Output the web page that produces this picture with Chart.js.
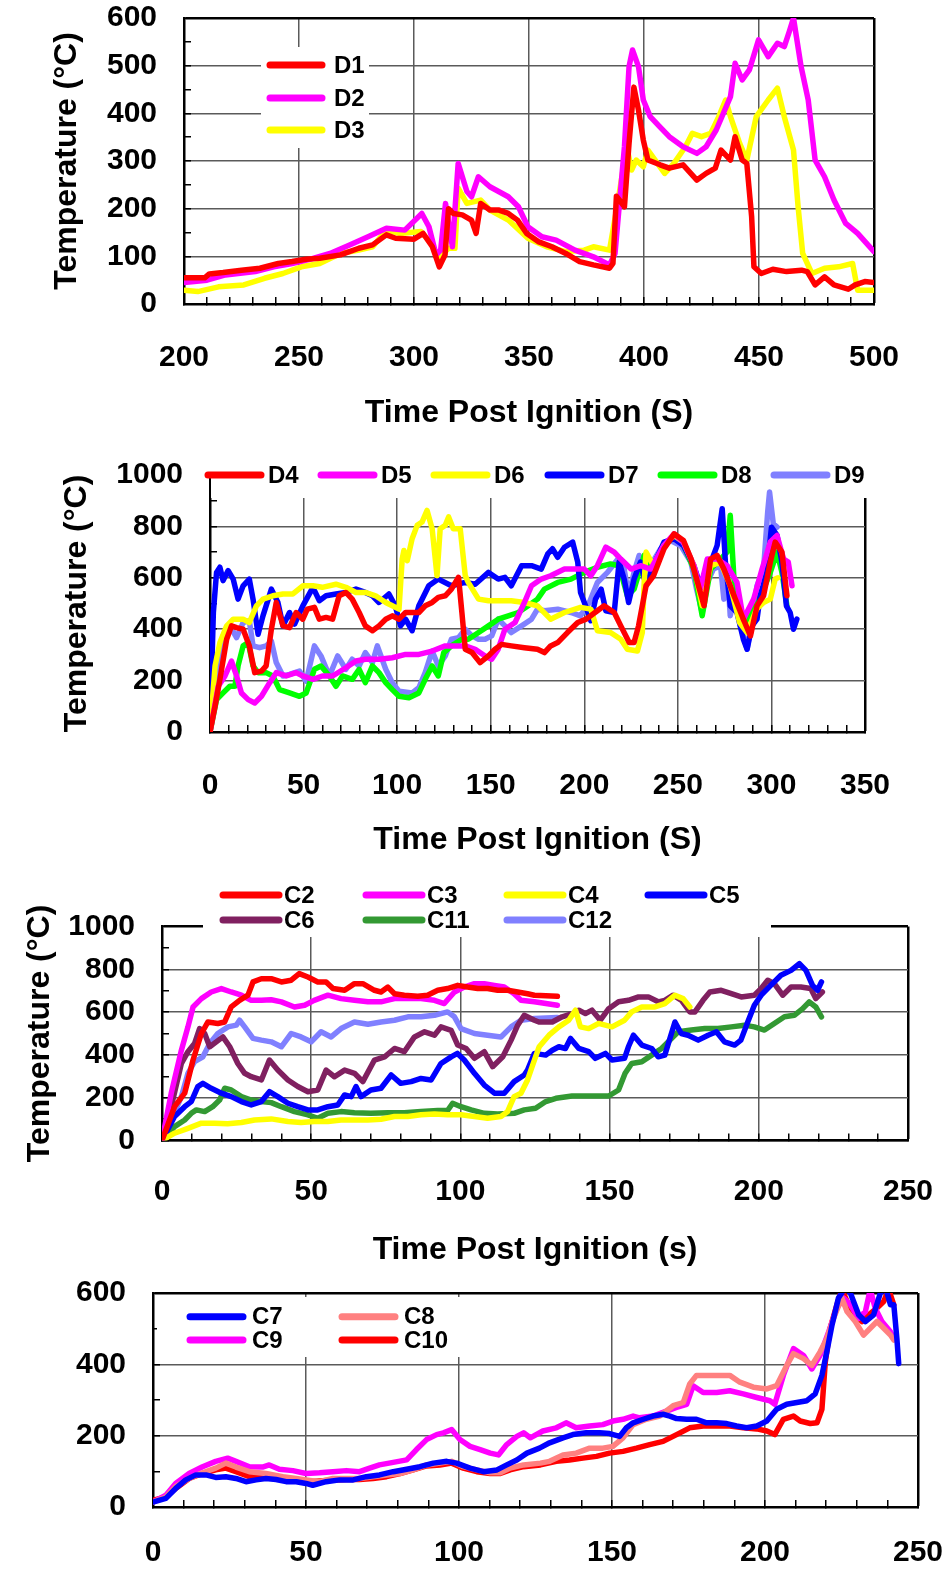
<!DOCTYPE html>
<html>
<head>
<meta charset="utf-8">
<script src="https://cdn.jsdelivr.net/npm/chart.js@4/dist/chart.umd.min.js"></script>
<style>
  body { margin: 0; background: #fff; }
  .panel { position: absolute; left: 0; width: 948px; }
</style>
</head>
<body>
<div class="panel" style="top:0px;height:440px"><canvas id="c1" width="948" height="440"></canvas></div>
<div class="panel" style="top:440px;height:420px"><canvas id="c2" width="948" height="420"></canvas></div>
<div class="panel" style="top:860px;height:410px"><canvas id="c3" width="948" height="410"></canvas></div>
<div class="panel" style="top:1270px;height:302px"><canvas id="c4" width="948" height="302"></canvas></div>
<script>
// thermocouple traces, [time (s), temperature (C)]
var d1 = [[200,55],[209,55],[211,63],[217,66],[225,71],[233,75],[241,85],[247,89],[253,94],[259,96],[268,103],[276,117],[282,124],[288,145],[292,138],[300,136],[304,148],[308,120],[311,78],[313.5,103],[315,200],[317,190],[321,187],[325,176],[327,148],[329,211],[333,197],[337,197],[341,190],[345,176],[349,148],[354,131],[360,120],[366,106],[372,89],[378,82],[385,75],[386.5,85],[388,226],[391.5,204],[393.5,337],[395.6,455],[397.6,407],[399.7,344],[401.7,302],[407,292],[411,285],[417,292],[423,260],[427,274],[431,285],[433.5,323],[437.6,302],[439.6,351],[442.7,302],[444.7,295],[446.8,183],[447.8,78],[451,64],[456,73],[462,68],[468.5,71],[471,68],[474.4,40],[478.5,57],[482.6,40],[488.8,31],[491.8,40],[496,47],[500,45]];
var d2 = [[200,45],[210,50],[218,61],[231,68],[239,78],[247,85],[255,94],[263.5,106],[272,124],[280,141],[288,159],[296,155],[303.4,190],[306.5,162],[309.6,103],[311.6,113],[313.7,211],[316.7,120],[319.2,295],[323,236],[325,225],[328,267],[333,246],[341,225],[345.4,204],[349.5,162],[355.6,141],[361.8,134],[370,113],[378,99],[385,82],[387.4,106],[391.5,330],[393.5,498],[395,533],[397.6,498],[399.7,428],[402.7,393],[406.8,372],[411,351],[417,330],[423,316],[427,330],[431.4,365],[437.6,435],[439.6,505],[442.7,470],[445.8,491],[449.8,554],[454,519],[458,547],[461,540],[463.2,572],[465,600],[468.3,498],[471.4,428],[474.4,302],[478.5,267],[482.6,218],[487.7,169],[492.9,148],[500,110]];
var d3 = [[200,29],[206,26],[215,36],[226,40],[235,54],[243,64],[251,78],[259,85],[268,106],[276,113],[282,120],[288,155],[294,148],[303,152],[307.5,127],[310.6,96],[315,117],[317.8,117],[319.2,243],[323,211],[329,218],[333,197],[341,176],[349.5,138],[357.7,120],[366,110],[374,113],[378,120],[385,113],[388.4,208],[392.5,330],[394.6,281],[396.6,302],[399.7,288],[401.7,323],[409,274],[413,295],[418,330],[421,358],[425,351],[429,358],[432.5,393],[435.5,428],[437.6,393],[441.6,337],[444.7,302],[448.8,393],[454,428],[458,453],[461,393],[465,323],[467,204],[469,106],[473,64],[478.5,75],[484.6,78],[490.7,85],[492.9,29],[500,29]];

var d4 = [[0,0],[2.7,100],[5.3,205],[8.9,361],[11.5,413],[14.2,406],[17.7,400],[21,335],[23.9,231],[27.5,237],[30,257],[32.8,400],[35.4,504],[39,413],[42.5,406],[46,465],[49.6,439],[52,478],[55.8,485],[58.4,439],[62,446],[65.5,439],[69,530],[72.6,543],[76,517],[79.7,465],[83,413],[86.8,394],[90.3,413],[93.9,439],[97.4,452],[101,439],[104.5,465],[111.6,465],[115,491],[118.7,504],[122,524],[125.7,530],[129,556],[132.8,602],[134.6,465],[136.4,322],[140,309],[144.3,270],[148.8,296],[152.3,322],[155.8,341],[161,335],[168,328],[175,322],[178.7,309],[182,335],[185.8,348],[191,387],[196.5,426],[201,439],[207,472],[210.6,491],[216,465],[219.5,413],[224,348],[226.6,348],[229,413],[233,569],[237,608],[242.6,713],[248,771],[253,745],[257,674],[260,595],[264,491],[267.5,673],[271,687],[274.6,634],[280,530],[285,439],[288.8,374],[292.3,491],[295.8,530],[299.4,661],[302,739],[305.6,700],[308.3,530]];
var d5 = [[0,0],[4.4,178],[8,218],[11.5,276],[14.2,218],[16.8,152],[20.4,126],[23.9,113],[27.5,139],[31.9,192],[35.4,231],[40.7,218],[46,231],[49.6,218],[55,205],[60,218],[65.5,218],[72.6,250],[78,276],[83,283],[90.3,283],[97.4,289],[104.5,302],[111.6,302],[118.7,315],[125.7,335],[132.8,335],[136.4,335],[141.7,322],[147,296],[150.5,283],[154,322],[157.6,400],[163,426],[168,504],[171.8,569],[177,595],[182,608],[189.4,634],[194.7,634],[200,634],[203.5,608],[207,647],[211.5,719],[216,700],[219.5,673],[225,634],[230,647],[235.5,634],[242.6,726],[248,771],[253,739],[258.6,647],[262,556],[265.7,673],[271,673],[276.3,647],[281.6,582],[285,439],[290.5,517],[295,634],[299.4,739],[303,765],[306.5,673],[309,661],[311,569]];
var d6 = [[0,0],[2.7,257],[5.3,348],[8.9,413],[12.4,439],[17.7,439],[21,426],[24.8,491],[28.3,517],[33.6,530],[39,537],[44.3,537],[49.6,569],[55,569],[60,563],[67.3,575],[72.6,563],[78,543],[83,543],[88.5,530],[93.9,504],[97.4,491],[101,478],[102.7,673],[103.6,706],[105.4,667],[108,752],[110.7,804],[113.3,817],[116,862],[118.7,791],[121.3,608],[123,791],[125.7,804],[127.5,837],[130,791],[133.7,791],[136.4,608],[138,582],[143.5,517],[148.8,511],[154,511],[161,511],[168,504],[175,491],[182,439],[189.4,465],[198,485],[203.5,478],[207,394],[214,387],[219.5,361],[223,322],[228.4,315],[231,387],[232,582],[233,700],[237,647],[242.6,726],[248,765],[253,739],[258.6,647],[263,491],[267.5,647],[272.8,660],[278,569],[283,426],[287,387],[292,478],[295.8,504],[299.4,517],[302,595],[303.5,600]];
var d7 = [[0,0],[1.8,465],[3.5,621],[5.3,641],[7,589],[9.7,628],[12.4,595],[15,517],[17.7,569],[21,595],[23,517],[25.7,380],[28.3,452],[32.8,556],[36.3,504],[39,413],[42.5,465],[45.2,420],[49.6,491],[55,563],[58.4,511],[62,530],[67.3,537],[72.6,543],[78,556],[83,543],[86.8,530],[90.3,504],[95.6,537],[99,491],[101.8,413],[104.5,439],[108,394],[111.6,491],[116.9,569],[122,595],[129,569],[136.4,582],[141.7,575],[148.8,621],[154,595],[157.6,602],[161,569],[166.5,647],[171.8,647],[177,634],[180.5,693],[183,713],[185.8,680],[189.4,719],[193.8,739],[196.5,661],[198,543],[201,485],[203.5,433],[206,517],[209,556],[211.5,472],[216,465],[218.6,661],[221.3,595],[223.7,504],[226.6,595],[230,661],[233,569],[237,647],[242.6,739],[248,752],[253,726],[258.6,647],[262,569],[265.7,647],[268.3,673],[271,726],[273.7,869],[275.4,661],[278,491],[281.6,465],[285,361],[287,322],[289.6,413],[292.3,439],[294,530],[297.6,621],[300,797],[303,765],[305.6,661],[308,491],[310,465],[311.8,400],[313.6,439]];
var d8 = [[0,0],[3.5,126],[7,152],[10.6,178],[13.3,178],[15,257],[17.7,335],[20.4,348],[23,257],[25.7,231],[30,231],[33.6,218],[37.2,165],[42.5,152],[47.8,139],[51.4,152],[55.8,244],[59.3,257],[63.8,218],[67.3,178],[70.8,218],[76,205],[79.7,244],[83,192],[86.8,257],[90.3,231],[93.9,192],[97.4,165],[101,139],[106.3,133],[111.6,152],[115,205],[118.7,257],[122,218],[124.9,309],[129,335],[134.6,361],[138,361],[143.5,387],[148.8,413],[154,439],[159.4,452],[164.7,465],[170,491],[175,517],[178.7,556],[185.8,582],[192.9,595],[200,621],[207,641],[214,654],[218.6,647],[223,530],[226.6,556],[232,687],[237,634],[242.6,726],[248,758],[253,726],[258.6,634],[263,452],[267.5,634],[272.8,673],[276.3,700],[278,843],[280,595],[282.5,465],[286,426],[288.8,465],[292.3,504],[295.8,556],[299.4,621],[303,700],[305.6,621],[308.3,491]];
var d9 = [[0,0],[3.5,231],[7,374],[10.6,413],[14.2,367],[17.7,426],[21,433],[23,335],[26.5,328],[30,335],[32.8,354],[35.4,270],[39,218],[42.5,224],[47.8,237],[51.4,198],[55.8,335],[59.3,296],[63.8,218],[68.2,296],[72.6,244],[76,283],[79.7,257],[83,309],[86.8,270],[89.4,335],[93.9,244],[97.4,192],[101,159],[108,152],[111.6,172],[115,231],[118.7,315],[122,257],[125.7,296],[129,361],[132.8,367],[136.4,400],[140,374],[143.5,361],[147,361],[150.5,374],[154,439],[157.6,413],[161,387],[166.5,413],[171.8,439],[175,478],[178.7,472],[185.8,478],[192.9,465],[198,452],[202.7,504],[207,582],[212.4,621],[218,673],[221.3,634],[223.7,530],[226.6,621],[229.3,687],[233,621],[236.4,660],[240.8,713],[246,745],[251.5,726],[257,660],[260,556],[263,465],[265.7,582],[269,634],[272.8,647],[274.6,517],[276.3,647],[278,452],[280.8,556],[283.4,413],[287,322],[289.6,439],[292.3,569],[295.8,634],[298,856],[299,934],[301,810],[303,797]];

var c2 = [[0,0],[4.2,158],[7.6,221],[10.4,376],[13.2,500],[15.4,554],[18.7,547],[21,554],[23.2,624],[26,655],[28.8,679],[30.5,741],[33.3,756],[36.6,756],[40,741],[43.3,749],[46,780],[48.9,764],[52.2,741],[55,741],[57.3,710],[61.2,702],[64.5,733],[67.3,733],[71.2,702],[73.4,694],[75.7,717],[77.9,686],[81.2,679],[85.7,674],[89,679],[92.4,702],[95.7,710],[99.1,725],[102.4,717],[105.8,710],[109.1,710],[112.5,702],[115.8,702],[119.2,694],[122.5,686],[124.8,679],[132.5,674]];
var c3 = [[0,0],[3.1,221],[6.5,422],[8.7,531],[10.4,624],[13.2,663],[16.5,694],[19.9,710],[23.2,694],[26.6,679],[29.9,655],[33.3,655],[36.6,658],[40,648],[44.4,624],[47.8,632],[51,655],[55.6,679],[60,663],[64.5,655],[69,648],[73.4,648],[77.9,663],[82.4,663],[86.8,663],[91.3,655],[94.6,640],[98,694],[101.3,717],[104.7,733],[108,733],[111.4,725],[114.7,717],[118,686],[120.3,655],[124.8,648],[132.5,632]];
var c4 = [[0,0],[4.2,34],[8.7,57],[13.2,81],[17.6,81],[22,78],[26.6,84],[31,96],[36.6,101],[42.2,89],[46.6,84],[51,89],[55.6,89],[60,96],[64.5,96],[69,96],[73.4,99],[77.9,112],[82.4,112],[86.8,120],[91.3,124],[95.7,120],[100.2,120],[104.7,112],[109.1,104],[113.6,112],[115.8,135],[118,205],[120.3,221],[122.5,283],[124.8,376],[126.4,438],[129.7,492],[133,531],[136.3,562],[138.6,609],[140.2,531],[143,523],[146.3,547],[150.8,531],[155,562],[157.4,601],[160.8,624],[165.2,624],[168.5,640],[171.9,679],[174.6,663],[176.9,624]];
var c5 = [[0,0],[4.2,112],[7.6,158],[9.8,182],[12,252],[13.7,267],[16.5,244],[19.9,221],[23.2,205],[26.6,182],[29.9,166],[33.3,182],[36,228],[38.8,205],[42.2,174],[45.5,158],[48.9,143],[52.2,143],[55.6,158],[58.9,166],[61.2,213],[63.4,205],[65,252],[66.7,205],[70,236],[73.4,244],[76.8,306],[80,267],[83.5,275],[86.8,290],[90.2,283],[93.5,360],[96.9,391],[99,407],[101.3,376],[104.7,314],[108,259],[111.4,221],[114.7,221],[118,275],[121.4,306],[122.5,329],[124.8,407],[128.6,399],[130.8,422],[133,438],[135.2,430],[136.9,477],[139.7,430],[143,415],[145.2,384],[148.6,407],[150.8,376],[155,384],[156.3,438],[158,492],[160.8,446],[164.1,430],[166.3,391],[168.5,399],[171.9,554],[174,500],[176.3,492],[179.7,469],[183,492],[185.8,508],[188.5,461],[191.9,446],[194,469],[196.3,554],[198.5,632],[200.8,679],[204,725],[207.4,772],[210.8,795],[213.6,826],[215.8,795],[218,725],[219.7,702],[221,741]];
var c6 = [[0,0],[3.1,158],[6.5,360],[8.7,415],[10.9,453],[12.6,523],[14.3,500],[16,438],[18.2,461],[20.4,484],[22.7,438],[25.4,360],[27.7,314],[29.9,298],[33.3,283],[36,376],[38.8,329],[42.2,283],[45.5,252],[48.9,228],[52.2,236],[55,329],[57.8,298],[61.2,329],[64.5,314],[67.3,275],[71.2,376],[74.6,391],[77.9,430],[81.2,415],[84.6,484],[88,508],[91.3,492],[93.5,531],[96.9,515],[99.1,446],[101.9,430],[104.7,384],[108,415],[110.8,345],[114.2,391],[117,469],[119.2,539],[121.4,585],[124.8,562],[126.3,554],[130.8,554],[134.1,578],[137.5,593],[139.7,609],[141.9,593],[144.1,609],[146.9,562],[149.7,616],[153,648],[156.3,655],[159.7,671],[163,671],[166.3,648],[168.5,655],[171.3,679],[174.1,655],[176.9,601],[178.6,601],[181.3,655],[183.6,694],[187.4,702],[190.8,686],[194.1,671],[198.5,679],[200.8,710],[203,749],[205.2,733],[208,679],[210.8,717],[214.1,717],[217.4,710],[219.1,663],[221.3,694]];
var c11 = [[0,0],[4.2,65],[7.6,96],[9.8,127],[11.5,143],[14.3,135],[17,158],[19.3,189],[21,244],[23.2,236],[26.6,205],[29.9,189],[33.3,182],[36.6,177],[40,158],[44.4,135],[48.9,120],[52.2,104],[55.6,127],[60,135],[64.5,130],[70,127],[75.7,130],[81.2,130],[86.8,135],[92.4,140],[95.7,140],[97.4,174],[100.2,158],[103.6,143],[108,127],[112.5,124],[118,127],[121.4,143],[125.2,151],[128.6,182],[132,197],[137.4,208],[144.1,208],[149.7,208],[153,236],[155.2,314],[157.4,360],[160.8,368],[164.1,399],[167.4,430],[170.8,477],[173,508],[177.4,516],[181.9,523],[186.3,523],[190.8,531],[195.2,539],[198.5,531],[201.9,516],[205.2,547],[208.6,578],[211.9,585],[214.7,616],[216.9,648],[219.1,624],[221,578]];
var c12 = [[0,0],[3.1,96],[6.5,205],[8.7,314],[10.9,368],[13.7,391],[16,453],[18.7,500],[22.1,531],[24.9,539],[26,562],[27.7,531],[30.5,477],[33.3,469],[36.6,461],[40,438],[43.3,500],[46.6,484],[50,461],[53.3,508],[56.7,484],[60,523],[64.5,554],[69,543],[73.4,554],[77.9,562],[82.4,578],[86.8,578],[91.3,585],[95.7,601],[98,578],[100.2,523],[104.7,500],[109.1,492],[113.6,484],[117,531],[120.3,562],[124.8,570],[132.5,575]];

var c7 = [[0,14],[4.2,24],[7.4,52],[10.7,76],[14,90],[17.3,90],[20.5,83],[23.8,85],[27.1,80],[30.4,71],[33.7,76],[36.9,80],[40.2,77],[43.5,71],[46.8,71],[50,66],[52.2,61],[56.6,71],[61,76],[65.4,76],[69.7,85],[74,90],[78.5,99],[82.9,106],[87.2,113],[91.6,123],[96,128],[99.2,123],[103.6,109],[108,99],[112.4,104],[115.6,118],[118.9,132],[122.2,151],[126.3,165],[129.6,180],[134,194],[137.2,203],[141.6,208],[146,208],[149.2,206],[152.5,198],[154.7,222],[156.9,236],[160.2,246],[163.4,255],[166.7,260],[168.9,255],[171.1,248],[174.4,246],[177.6,246],[180.9,236],[184.2,236],[187.5,234],[190.7,227],[194,222],[197.3,227],[200.6,241],[203.8,274],[207.1,288],[210.4,293],[213.7,298],[216.4,317],[218.6,369],[220.2,435],[221.9,510],[224,586],[226.2,615],[227.9,600],[230.6,539],[232.8,520],[235.5,539],[237.7,600],[239.4,615],[241,567],[242.1,567],[243.1,472],[243.7,402]];
var c8 = [[0,14],[4.2,28],[7.4,57],[11.8,80],[16.2,96],[20.5,109],[23.8,123],[27.1,112],[31.5,99],[36.9,94],[42.4,85],[46.8,80],[50,76],[54.4,71],[58.8,80],[63.2,80],[67.5,80],[71.9,85],[76.3,90],[80.7,94],[85,104],[89.4,118],[93.8,123],[97.6,128],[101.4,113],[105.8,104],[110.2,96],[113.5,96],[116.7,109],[121.1,118],[126.6,123],[129.6,128],[134,146],[138.3,151],[142.7,165],[147,165],[150.3,170],[153.6,194],[156.9,231],[161.2,246],[165.6,255],[170,284],[173.3,293],[175.4,345],[177.6,369],[182,369],[188.5,369],[191.8,350],[196.2,336],[200.6,331],[203.8,340],[207.1,397],[209.3,430],[212.6,416],[215.3,397],[218,435],[220.2,472],[222.4,529],[225.1,586],[226.8,548],[229.5,520],[232.2,482],[234.4,501],[236.6,520],[238.8,501],[241,482],[242.1,468]];
var c9 = [[0,14],[4.2,33],[7.4,66],[11.8,94],[16.2,113],[20.5,128],[24.4,137],[27.1,128],[31.5,113],[35.8,112],[38,118],[41.3,106],[45.7,102],[50,94],[54.4,96],[58.8,99],[63.2,102],[67.5,99],[70.8,109],[74,118],[78.5,125],[82.9,132],[86.1,161],[89.4,189],[92.7,203],[94.9,208],[97.6,217],[100.3,189],[103.6,170],[106.9,161],[110.2,151],[112.9,146],[115.6,175],[118.9,198],[121.1,208],[123.3,194],[127.4,213],[131.8,222],[135,236],[138.3,222],[142.7,227],[147,231],[150.3,241],[153.6,246],[156.9,255],[159,250],[163.4,255],[167.8,269],[171.1,279],[174.4,288],[176.5,340],[179.8,321],[184.2,321],[188.5,326],[192.9,317],[197.3,307],[201.6,298],[203.2,288],[206,369],[209.3,444],[212.6,425],[215.3,387],[218,425],[220.8,491],[223.5,558],[225.7,586],[227.9,567],[230.6,529],[232.8,548],[234.4,610],[236,558],[238.2,520],[241,491],[242.1,472]];
var c10 = [[0,19],[4.2,28],[7.4,52],[11.8,80],[16.2,94],[20.5,104],[23.8,109],[27.1,99],[31.5,85],[36.9,85],[42.4,83],[46.8,77],[51.2,71],[56.6,74],[63.2,77],[67.5,77],[71.9,80],[76.3,85],[80.7,94],[85,104],[89.4,115],[93.8,118],[97.6,123],[101.4,109],[105.8,99],[110.2,94],[113.5,94],[116.7,104],[121.1,113],[126.6,118],[131.8,128],[136.1,132],[140.5,137],[144.9,142],[149.2,151],[153.6,156],[158,165],[162.3,175],[166.7,184],[171.1,203],[175.4,222],[179.8,227],[184.2,227],[188.5,227],[192.9,222],[197.3,219],[200.6,213],[203.2,203],[206,246],[209.3,255],[211.5,241],[214.8,234],[217,236],[218.6,274],[219.7,406],[221.3,501],[223.5,567],[225.1,610],[227.3,567],[229.5,539],[231.7,520],[233.9,539],[236.6,558],[238.8,576],[240.4,610],[242.1,567]];

var labels1 = ['D1', 'D2', 'D3'];
var labels2 = ['D4', 'D5', 'D6', 'D7', 'D8', 'D9'];
var labels3 = ['C2', 'C3', 'C4', 'C5', 'C6', 'C11', 'C12'];
var labels4 = ['C7', 'C8', 'C9', 'C10'];

var FONT = 'Liberation Sans, Arial, Helvetica, sans-serif';

function pts(arr) {
  return arr.map(function (p) { return { x: p[0], y: p[1] }; });
}

function series(names, traces, colors) {
  return names.map(function (n, i) {
    return {
      label: n,
      data: pts(traces[i]),
      borderColor: colors[i],
      borderWidth: 5.5,
      pointRadius: 0,
      tension: 0,
      fill: false,
      borderJoinStyle: 'round',
      borderCapStyle: 'round'
    };
  });
}

function steps(min, max, step) {
  var out = [];
  for (var v = min; v <= max + 1e-9; v += step) out.push({ value: v });
  return out;
}

// grid lines only on the major steps, the top / right edge is the black frame
function gridFor(major, max) {
  return {
    color: function (c) {
      if (c.tick.value === max) return '#000';
      return c.tick.value % major === 0 ? '#5a5a5a' : 'rgba(0,0,0,0)';
    },
    lineWidth: function (c) { return c.tick.value === max ? 2.5 : 1.5; },
    tickColor: '#000',
    tickLength: -7,
    tickWidth: 1.5
  };
}

// axis boxes have fixed sizes, no extra room for overhanging labels
function fixBox(w, h) {
  return function (s) {
    if (w != null) s.width = w;
    if (h != null) s.height = h;
    s.paddingTop = 0; s.paddingBottom = 0;
    s.paddingLeft = 0; s.paddingRight = 0;
  };
}

// white box with the line keys, painted over the grid
var keyBox = {
  id: 'keyBox',
  beforeDatasetsDraw: function (chart, args, o) {
    var ctx = chart.ctx;
    ctx.save();
    ctx.fillStyle = '#fff';
    ctx.fillRect(o.box[0], o.box[1], o.box[2], o.box[3]);
    ctx.font = 'bold 24px ' + FONT;
    ctx.textBaseline = 'middle';
    ctx.textAlign = 'left';
    chart.data.datasets.forEach(function (ds, i) {
      var col = i % o.cols, row = Math.floor(i / o.cols);
      var x = o.xs[col], y = o.ys[row];
      ctx.strokeStyle = ds.borderColor;
      ctx.lineWidth = 7;
      ctx.lineCap = 'round';
      ctx.beginPath();
      ctx.moveTo(x, y);
      ctx.lineTo(x + o.len, y);
      ctx.stroke();
      ctx.fillStyle = '#000';
      ctx.fillText(ds.label, x + o.len + o.gap, y + 1);
    });
    ctx.restore();
  }
};

function makeChart(id, p) {
  var tickFont = { family: FONT, size: 30, weight: 'bold' };
  var titleFont = { family: FONT, size: 32, weight: 'bold' };
  new Chart(document.getElementById(id), {
    type: 'line',
    data: { datasets: p.datasets },
    plugins: [keyBox],
    options: {
      responsive: false,
      animation: false,
      devicePixelRatio: 1,
      layout: { padding: { left: 0, top: p.padTop, right: p.padRight, bottom: 0 } },
      plugins: {
        legend: { display: false },
        tooltip: { enabled: false },
        keyBox: p.key
      },
      scales: {
        x: {
          type: 'linear',
          min: p.xMin, max: p.xMax,
          afterBuildTicks: function (s) { s.ticks = steps(p.xMin, p.xMax, 10); },
          afterFit: fixBox(null, p.xH),
          ticks: {
            autoSkip: false, maxRotation: 0, minRotation: 0,
            padding: p.xPad, color: '#000', font: tickFont,
            callback: function (v) { return v % 50 === 0 ? v : ''; }
          },
          grid: gridFor(50, p.xMax),
          border: { color: '#000', width: 2.5 },
          title: {
            display: !!p.xTitle, text: p.xTitle, color: '#000',
            font: titleFont, padding: { top: 0, bottom: p.xTitlePad }
          }
        },
        y: {
          type: 'linear',
          min: 0, max: p.yMax,
          afterBuildTicks: function (s) { s.ticks = steps(0, p.yMax, p.yMinor); },
          afterFit: fixBox(p.yW, null),
          ticks: {
            autoSkip: false, padding: 34, color: '#000', font: tickFont,
            callback: function (v) { return v % p.yMajor === 0 ? v : ''; }
          },
          grid: gridFor(p.yMajor, p.yMax),
          border: { color: '#000', width: 2.5 },
          title: {
            display: !!p.yTitle, text: p.yTitle, color: '#000',
            font: titleFont, padding: { top: p.yTitlePad, bottom: 0 }
          }
        }
      }
    }
  });
}

makeChart('c1', {
  datasets: series(labels1, [d1, d2, d3], ['#ff0000', '#ff00ff', '#ffff00']),
  xMin: 200, xMax: 500, yMax: 600, yMajor: 100, yMinor: 50,
  padTop: 18, padRight: 74, yW: 184, xH: 136, xPad: 43,
  xTitle: 'Time Post Ignition (S)', xTitlePad: 8,
  yTitle: 'Temperature (°C)', yTitlePad: 48,
  key: { box: [261, 47, 108, 101], cols: 1, xs: [270], ys: [65, 98, 130], len: 52, gap: 12 }
});

makeChart('c2', {
  datasets: series(labels2, [d4, d5, d6, d7, d8, d9],
    ['#ff0000', '#ff00ff', '#ffff00', '#0000ff', '#00ff00', '#8080ff']),
  xMin: 0, xMax: 350, yMax: 1000, yMajor: 200, yMinor: 100,
  padTop: 35, padRight: 83, yW: 210, xH: 128, xPad: 43,
  xTitle: 'Time Post Ignition (S)', xTitlePad: 1,
  yTitle: 'Temperature (°C)', yTitlePad: 58,
  key: { box: [211, 15, 659, 43], cols: 6, xs: [208, 321, 434, 548, 661, 774], ys: [35], len: 53, gap: 7 }
});

makeChart('c3', {
  datasets: series(labels3, [c2, c3, c4, c5, c6, c11, c12],
    ['#ff0000', '#ff00ff', '#ffff00', '#0000ff', '#802060', '#339933', '#8080ff']),
  xMin: 0, xMax: 250, yMax: 1000, yMajor: 200, yMinor: 100,
  padTop: 66.5, padRight: 40, yW: 162, xH: 129.5, xPad: 40,
  xTitle: 'Time Post Ignition (s)', xTitlePad: 1,
  yTitle: 'Temperature (°C)', yTitlePad: 21,
  key: { box: [203, 20, 568, 57], cols: 4, xs: [223, 366, 507, 648], ys: [35, 60], len: 56, gap: 5 }
});

makeChart('c4', {
  datasets: series(labels4, [c7, c8, c9, c10], ['#0000ff', '#ff8080', '#ff00ff', '#ff0000']),
  xMin: 0, xMax: 250, yMax: 600, yMajor: 200, yMinor: 100,
  padTop: 23, padRight: 30, yW: 153, xH: 65, xPad: 35,
  key: { box: [157, 27, 313, 60], cols: 2, xs: [190, 342], ys: [46.7, 70], len: 53, gap: 9 }
});
</script>
</body>
</html>
